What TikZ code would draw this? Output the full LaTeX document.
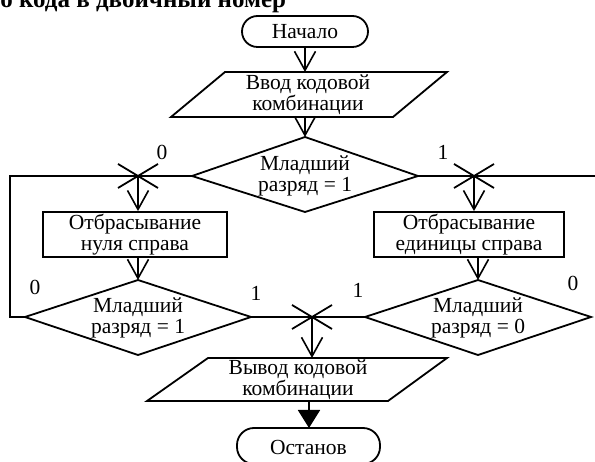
\documentclass[tikz,border=0pt]{standalone}
\usepackage{fontspec}
\setmainfont{Liberation Serif}
\usetikzlibrary{arrows.meta}
\newcommand\jcross[1]{%
  \draw ([shift={(-20,-12)}]#1) -- ([shift={(20,12)}]#1)
        ([shift={(-20,12)}]#1) -- ([shift={(20,-12)}]#1);}
\begin{document}
\begin{tikzpicture}[x=1pt,y=-1pt, line width=1.8pt, line join=miter,
  font=\fontsize{21.5}{21}\selectfont,
  txt/.style={align=center, inner sep=0pt},
  arr/.style={-{Straight Barb[length=19pt,width=21pt,line width=1.6pt]}},
  farr/.style={-{Triangle[length=18pt,width=22pt]}},
  lbl/.style={inner sep=0pt},
  boxnode/.style={draw, align=center, inner sep=0pt, minimum height=45pt}]
\useasboundingbox (0,0) rectangle (595,462);
\clip (0,0) rectangle (595,462);
% title (cut off at the top, as in the reference)
\node[anchor=base east, inner sep=0pt, font=\bfseries\fontsize{25}{25}\selectfont] (title) at (287,8) {го кода в двоичный номер};
% start
\draw[rounded corners=15.5pt] (242,16) rectangle (368,47);
\node[txt] (start) at (305,31.5) {Начало};
\coordinate (startS) at (305,47);
% input
\coordinate (inNW) at (225,72); \coordinate (inNE) at (447,72);
\coordinate (inSE) at (393,117); \coordinate (inSW) at (171,117);
\draw (inNW) -- (inNE) -- (inSE) -- (inSW) -- cycle;
\node[txt] (in) at (308,95) {Ввод кодовой\\комбинации};
\coordinate (inN) at (305,72);
\coordinate (inS) at (305,117);
\draw[arr] (startS) -- (inN);
% decision 1
\coordinate (d1N) at (305,137); \coordinate (d1E) at (418,176);
\coordinate (d1S) at (305,212); \coordinate (d1W) at (192,176);
\draw (d1N) -- (d1E) -- (d1S) -- (d1W) -- cycle;
\node[txt] (d1) at (305,176) {Младший\\разряд = 1};
\draw[arr] (inS) -- (d1N);
% junctions
\coordinate (jL) at (138,176);
\coordinate (jR) at (474,176);
\coordinate (jB) at (312,317);
\coordinate (cLT) at (10,176);
\coordinate (cLB) at (10,317);
\coordinate (cR) at (600,176);
% left branch
\node[boxnode, minimum width=184pt] (rL) at (135,234.5) {Отбрасывание\\нуля справа};
\coordinate (d2N) at (138,280); \coordinate (d2E) at (251,317);
\coordinate (d2S) at (138,355); \coordinate (d2W) at (25,317);
\draw (d2N) -- (d2E) -- (d2S) -- (d2W) -- cycle;
\node[txt] (d2) at (138,318) {Младший\\разряд = 1};
\draw (d1W) -- (jL) -- (cLT) -- (cLB) -- (d2W);
\jcross{jL}
\draw[arr] (jL) -- (jL |- rL.north);
\draw[arr] (jL |- rL.south) -- (d2N);
% right branch
\node[boxnode, minimum width=190pt] (rR) at (469,234.5) {Отбрасывание\\единицы справа};
\coordinate (d3N) at (478,280); \coordinate (d3E) at (591,317);
\coordinate (d3S) at (478,355); \coordinate (d3W) at (365,317);
\draw (d3N) -- (d3E) -- (d3S) -- (d3W) -- cycle;
\node[txt] (d3) at (478,318) {Младший\\разряд = 0};
\draw (d1E) -- (jR) -- (cR);
\jcross{jR}
\draw[arr] (jR) -- (jR |- rR.north);
\draw[arr] (d3N |- rR.south) -- (d3N);
% bottom junction
\draw (d2E) -- (jB) -- (d3W);
\jcross{jB}
% output
\coordinate (outNW) at (208,358); \coordinate (outNE) at (447,358);
\coordinate (outSE) at (388,401); \coordinate (outSW) at (147,401);
\draw (outNW) -- (outNE) -- (outSE) -- (outSW) -- cycle;
\node[txt] (out) at (298,380) {Вывод кодовой\\комбинации};
\coordinate (outN) at (312,358);
\draw[arr] (jB) -- (outN);
% stop
\draw[rounded corners=17pt] (237,428) rectangle (380,464);
\node[txt] (stop) at (308.5,447) {Останов};
\coordinate (outS) at (309,401);
\coordinate (stopN) at (309,428);
\draw[farr] (outS) -- (stopN);
% labels
\node[lbl] (l1) at (162,152) {0};
\node[lbl] (l2) at (443,152) {1};
\node[lbl] (l3) at (35,287) {0};
\node[lbl] (l4) at (256,293) {1};
\node[lbl] (l5) at (358,290) {1};
\node[lbl] (l6) at (573,283) {0};
\end{tikzpicture}
\end{document}
